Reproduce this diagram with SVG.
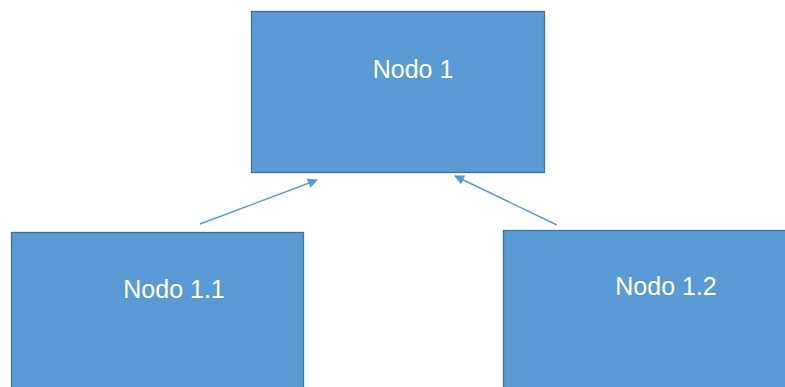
<svg xmlns="http://www.w3.org/2000/svg" width="785" height="387" viewBox="0 0 785 387">
<style>
.node{fill:#5B9BD5;stroke:#41719C;stroke-width:1.3}
.lbl{font-family:"Liberation Sans",Arial,sans-serif;font-size:25px;fill:#ffffff;text-anchor:middle}
.conn{stroke:#5B9BD5;stroke-width:1.5;fill:none;marker-end:url(#ah)}
</style>
<defs>
<marker id="ah" viewBox="0 0 10 10" refX="9" refY="5" markerWidth="11" markerHeight="10" orient="auto" markerUnits="userSpaceOnUse">
<path d="M0,0 L10,5 L0,10 z" fill="#5B9BD5"/>
</marker>
</defs>
<rect width="785" height="387" fill="#ffffff"/>
<g id="node1"><rect class="node" x="251.5" y="11.5" width="293" height="161"/><text class="lbl" x="413" y="78">Nodo 1</text></g>
<g id="node1_1"><rect class="node" x="11.5" y="232.5" width="292" height="170"/><text class="lbl" x="174" y="298">Nodo 1.1</text></g>
<g id="node1_2"><rect class="node" x="503.5" y="230.5" width="300" height="170"/><text class="lbl" x="666" y="295">Nodo 1.2</text></g>
<g id="connectors">
<line class="conn" x1="200" y1="224" x2="317" y2="180"/>
<line class="conn" x1="557" y1="225" x2="455" y2="176"/>
</g>
</svg>
